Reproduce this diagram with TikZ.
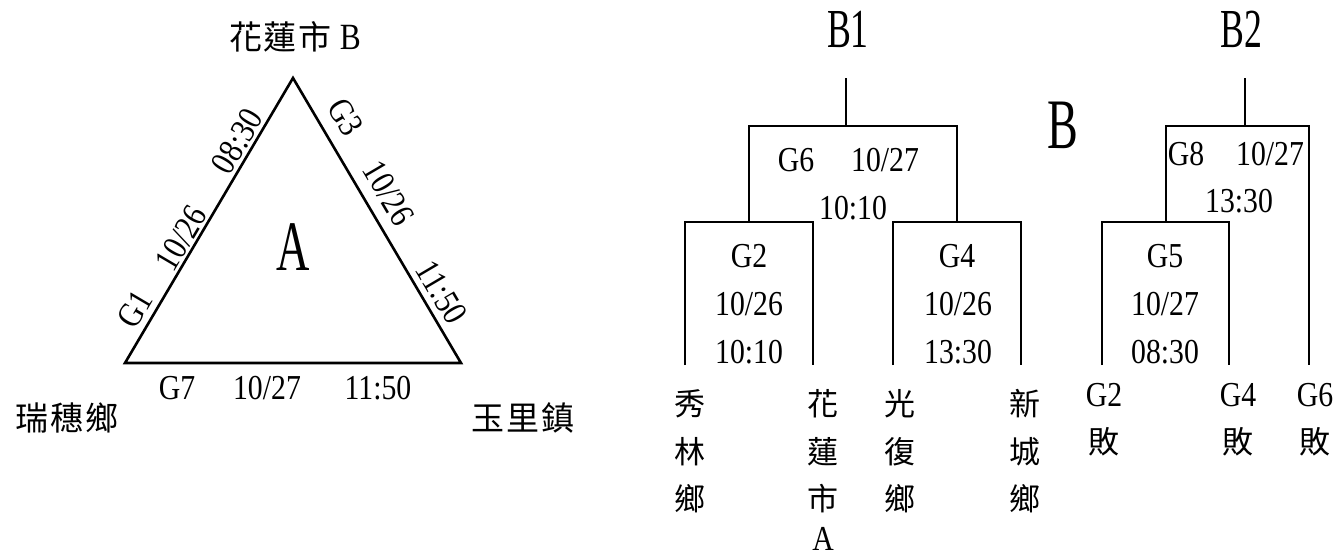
\documentclass[tikz,border=0pt]{standalone}
\usepackage{fontspec}
\setmainfont{Liberation Serif}
\newfontfamily\cjk{Noto Sans CJK TC}
\newfontfamily\cjksp[LetterSpace=6]{Noto Sans CJK TC}
\newfontfamily\latn[FakeStretch=0.85]{Liberation Serif}
\newfontfamily\tall[FakeStretch=0.65]{Liberation Serif}
\begin{document}
\begin{tikzpicture}[x=1pt,y=-1pt,
  lab/.style={font=\latn\fontsize{35}{35}\selectfont, inner sep=0pt, text height=23.5pt, text depth=0pt},
  cj/.style={font=\cjk\fontsize{31}{31}\selectfont, inner sep=0pt, text height=27.3pt, text depth=3.7pt},
  cjb/.style={font=\cjksp\fontsize{33}{33}\selectfont, inner sep=0pt, text height=29pt, text depth=4pt},
  bigl/.style={font=\tall\fontsize{71}{71}\selectfont, inner sep=0pt, text height=47pt, text depth=0pt},
  ttl/.style={font=\tall\fontsize{55}{55}\selectfont, inner sep=0pt, text height=36pt, text depth=0pt},
  tri/.style={line width=2.6pt, line join=miter},
  brk/.style={line width=1.2pt}]
\useasboundingbox (0,0) rectangle (1333,557);
\fill[white] (0,0) rectangle (1333,557);

% ---------- triangle A ----------
\coordinate (apex) at (293,78);
\coordinate (bl) at (125,363);
\coordinate (br) at (461,363);
\draw[tri] (bl) -- (apex) -- (br) -- cycle;

\node[font=\latn\fontsize{37}{37}\selectfont, inner sep=0pt, anchor=base] (topname) at (295,49)
  {{\cjksp\fontsize{33}{33}\selectfont 花蓮市}\hspace{8pt}B};
\node[bigl] (A) at (293,247) {A};

\node[lab, rotate=59.5] (g1) at (135,309) {G1};
\node[lab, rotate=59.5] (d1) at (181,238) {10/26};
\node[lab, rotate=59.5] (t1) at (237,141) {08:30};
\node[lab, rotate=-59.5] (g3) at (346,117) {G3};
\node[lab, rotate=-59.5] (d3) at (389,193) {10/26};
\node[lab, rotate=-59.5] (t3) at (442,292) {11:50};

\node[lab] (g7) at (177,388) {G7};
\node[lab] (d7) at (267,388) {10/27};
\node[lab] (t7) at (378,388) {11:50};

\node[cjb] (ruisui) at (67,418) {瑞穗鄉};
\node[cjb] (yuli) at (523,418) {玉里鎮};

% ---------- bracket B1 ----------
\node[ttl] (B1) at (848,29) {B1};
\node[ttl] (B2) at (1241,29) {B2};
\node[bigl] (Bbig) at (1063,125) {B};

\coordinate (s1) at (846,78);
\coordinate (s1b) at (846,126);
\coordinate (g6l) at (749,222);
\coordinate (g6r) at (957,222);
\coordinate (g2l) at (685,365);
\coordinate (g2r) at (813,365);
\coordinate (g4l) at (893,365);
\coordinate (g4r) at (1021,365);
\draw[brk] (s1) -- (s1b);
\draw[brk] (g6l) |- (s1b) -| (g6r);
\draw[brk] (g2l) |- (g6l) -| (g2r);
\draw[brk] (g4l) |- (g6r) -| (g4r);

\node[lab] (g6) at (796,160) {G6};
\node[lab] (d6) at (885,160) {10/27};
\node[lab] (t6) at (853,208) {10:10};

\node[lab] (g2) at (749,256) {G2};
\node[lab] (d2) at (749,304) {10/26};
\node[lab] (t2) at (749,352) {10:10};

\node[lab] (g4) at (957,256) {G4};
\node[lab] (d4) at (958,304) {10/26};
\node[lab] (t4) at (958,352) {13:30};

% ---------- bracket B2 ----------
\coordinate (s2) at (1245,78);
\coordinate (s2b) at (1245,126);
\coordinate (g8l) at (1166,222);
\coordinate (g8r) at (1309,365);
\coordinate (g5l) at (1102,365);
\coordinate (g5r) at (1229,365);
\draw[brk] (s2) -- (s2b);
\draw[brk] (g8l) |- (s2b) -| (g8r);
\draw[brk] (g5l) |- (g8l) -| (g5r);

\node[lab] (g8) at (1186,154) {G8};
\node[lab] (d8) at (1270,154) {10/27};
\node[lab] (t8) at (1239,201) {13:30};

\node[lab] (g5) at (1165,256) {G5};
\node[lab] (d5) at (1165,304) {10/27};
\node[lab] (t5) at (1165,352) {08:30};

% ---------- bottom team names ----------
\foreach \x/\a/\b/\c/\n in {690/秀/林/鄉/xl, 823/花/蓮/市/hl, 900/光/復/鄉/gf, 1025/新/城/鄉/xc}{
  \node[cj] (\n1) at (\x,404) {\a};
  \node[cj] (\n2) at (\x,452) {\b};
  \node[cj] (\n3) at (\x,499) {\c};
}
\node[lab] (hlA) at (823,539) {A};

\foreach \x/\t/\n in {1104/G2/l2, 1238/G4/l4, 1315/G6/l6}{
  \node[lab] (\n a) at (\x,395) {\t};
  \node[cj] (\n b) at (\x,442) {敗};
}
\end{tikzpicture}
\end{document}
